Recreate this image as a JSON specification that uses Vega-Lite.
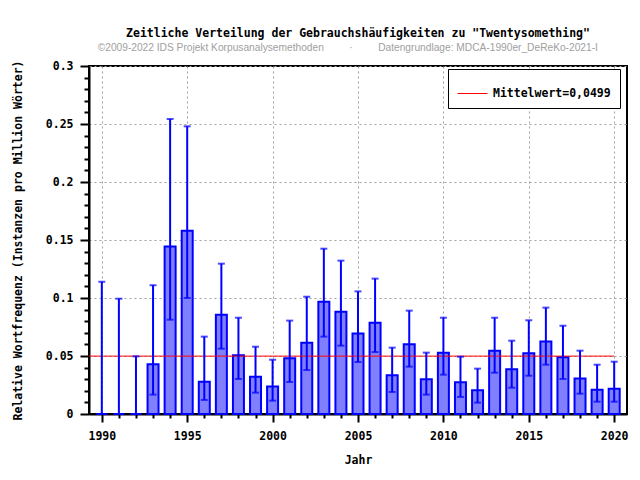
{
  "$schema": "https://vega.github.io/schema/vega-lite/v6.json",
  "autosize": {"type": "none"},
  "width": 538,
  "height": 348,
  "padding": {"left": 89, "top": 66, "right": 13, "bottom": 66},
  "background": "white",
  "config": {
    "view": {"stroke": "black", "strokeWidth": 2},
    "font": "DejaVu Sans Mono"
  },
  "title": {
    "text": "Zeitliche Verteilung der Gebrauchshäufigkeiten zu \"Twentysomething\"",
    "subtitle": "©2009-2022 IDS Projekt Korpusanalysemethoden\u00a0\u00a0\u00a0\u00a0\u00a0\u00a0\u00a0\u00a0\u00a0·\u00a0\u00a0\u00a0\u00a0\u00a0\u00a0\u00a0\u00a0\u00a0Datengrundlage: MDCA-1990er_DeReKo-2021-I\u2003\u2003\u200b",
    "anchor": "middle",
    "font": "DejaVu Sans Mono",
    "fontSize": 11.5,
    "fontWeight": "bold",
    "color": "black",
    "subtitleFont": "Liberation Sans",
    "subtitleFontSize": 10.2,
    "subtitleColor": "#a0a0a0",
    "subtitlePadding": 3,
    "offset": 7
  },
  "datasets": {
    "freq": [
      {"year": 1990, "value": 0, "lo": 0, "hi": 0.114},
      {"year": 1991, "value": 0, "lo": 0, "hi": 0.0994},
      {"year": 1992, "value": 0, "lo": 0, "hi": 0.0497},
      {"year": 1993, "value": 0.0428, "lo": 0.0167, "hi": 0.111},
      {"year": 1994, "value": 0.1443, "lo": 0.0813, "hi": 0.2543},
      {"year": 1995, "value": 0.158, "lo": 0.1, "hi": 0.248},
      {"year": 1996, "value": 0.0279, "lo": 0.0121, "hi": 0.0667},
      {"year": 1997, "value": 0.0856, "lo": 0.0563, "hi": 0.1296},
      {"year": 1998, "value": 0.0506, "lo": 0.0302, "hi": 0.083},
      {"year": 1999, "value": 0.0322, "lo": 0.0184, "hi": 0.058},
      {"year": 2000, "value": 0.0236, "lo": 0.0115, "hi": 0.0468},
      {"year": 2001, "value": 0.048, "lo": 0.0276, "hi": 0.0805},
      {"year": 2002, "value": 0.0615, "lo": 0.0379, "hi": 0.1011},
      {"year": 2003, "value": 0.0968, "lo": 0.0667, "hi": 0.1425},
      {"year": 2004, "value": 0.0882, "lo": 0.0589, "hi": 0.1322},
      {"year": 2005, "value": 0.0695, "lo": 0.0448, "hi": 0.1057},
      {"year": 2006, "value": 0.0787, "lo": 0.0534, "hi": 0.1167},
      {"year": 2007, "value": 0.0333, "lo": 0.019, "hi": 0.0572},
      {"year": 2008, "value": 0.0601, "lo": 0.0408, "hi": 0.0891},
      {"year": 2009, "value": 0.0299, "lo": 0.0167, "hi": 0.0529},
      {"year": 2010, "value": 0.0529, "lo": 0.0339, "hi": 0.083},
      {"year": 2011, "value": 0.0273, "lo": 0.0147, "hi": 0.0494},
      {"year": 2012, "value": 0.0204, "lo": 0.0098, "hi": 0.0391},
      {"year": 2013, "value": 0.0546, "lo": 0.0356, "hi": 0.083},
      {"year": 2014, "value": 0.0385, "lo": 0.0227, "hi": 0.0632},
      {"year": 2015, "value": 0.0523, "lo": 0.033, "hi": 0.0808},
      {"year": 2016, "value": 0.0624, "lo": 0.0425, "hi": 0.0917},
      {"year": 2017, "value": 0.0489, "lo": 0.0302, "hi": 0.0761},
      {"year": 2018, "value": 0.0305, "lo": 0.0175, "hi": 0.0546},
      {"year": 2019, "value": 0.021, "lo": 0.0106, "hi": 0.0425},
      {"year": 2020, "value": 0.0218, "lo": 0.0106, "hi": 0.0451}
    ],
    "mean": [
      {"x": 1989.25, "x2": 2020, "y": 0.0499, "label": "Mittelwert=0,0499"}
    ]
  },
  "layer": [
    {
      "data": {"name": "freq"},
      "mark": {"type": "bar", "width": 11, "fill": "#8080ff", "stroke": "#0000ff", "strokeWidth": 2},
      "encoding": {
        "x": {
          "field": "year", "type": "quantitative",
          "scale": {"domain": [1989.25, 2020.75], "nice": false, "zero": false, "padding": 0},
          "axis": {
            "title": "Jahr",
            "values": [1990,1991,1992,1993,1994,1995,1996,1997,1998,1999,2000,2001,2002,2003,2004,2005,2006,2007,2008,2009,2010,2011,2012,2013,2014,2015,2016,2017,2018,2019,2020],
            "tickCount": 100,
            "format": "d",
            "labelExpr": "datum.value % 5 === 0 ? datum.label : ''",
            "labelFont": "DejaVu Sans Mono",
            "labelFontWeight": "bold",
            "labelFontSize": 11.5,
            "labelColor": "black",
            "labelPadding": 8,
            "labelFlush": false,
            "labelOverlap": false,
            "titleFont": "DejaVu Sans Mono",
            "titleFontWeight": "bold",
            "titleFontSize": 11.5,
            "titleColor": "black",
            "titlePadding": 13,
            "domainColor": "black",
            "domainWidth": 2,
            "tickColor": "black",
            "tickWidth": 2,
            "tickSize": {"condition": {"test": "datum.value % 5 === 0", "value": 8}, "value": 4},
            "grid": true,
            "gridColor": "#a0a0a0",
            "gridDash": [2, 3],
            "gridWidth": 1,
            "gridOpacity": {"condition": {"test": "datum.value % 5 === 0", "value": 1}, "value": 0}
          }
        },
        "y": {
          "field": "value", "type": "quantitative",
          "scale": {"domain": [0, 0.3], "nice": false, "padding": 0},
          "axis": {
            "title": "Relative Wortfrequenz (Instanzen pro Million Wörter)",
            "values": [0,0.01,0.02,0.03,0.04,0.05,0.06,0.07,0.08,0.09,0.1,0.11,0.12,0.13,0.14,0.15,0.16,0.17,0.18,0.19,0.2,0.21,0.22,0.23,0.24,0.25,0.26,0.27,0.28,0.29,0.3],
            "tickCount": 100,
            "format": ".2~f",
            "labelExpr": "round(datum.value*100) % 5 === 0 ? datum.label : ''",
            "labelFont": "DejaVu Sans Mono",
            "labelFontWeight": "bold",
            "labelFontSize": 11.5,
            "labelColor": "black",
            "labelPadding": 7,
            "labelFlush": false,
            "labelOverlap": false,
            "titleFont": "DejaVu Sans Mono",
            "titleFontWeight": "bold",
            "titleFontSize": 11.5,
            "titleColor": "black",
            "titlePadding": 22,
            "domainColor": "black",
            "domainWidth": 2,
            "tickColor": "black",
            "tickWidth": 2,
            "tickSize": {"condition": {"test": "round(datum.value*100) % 5 === 0", "value": 9}, "value": 5},
            "grid": true,
            "gridColor": "#a0a0a0",
            "gridDash": [2, 3],
            "gridWidth": 1,
            "gridOpacity": {"condition": {"test": "round(datum.value*100) % 5 === 0", "value": 1}, "value": 0}
          }
        }
      }
    },
    {
      "data": {"name": "mean"},
      "mark": {"type": "rule", "strokeWidth": 1},
      "encoding": {
        "x": {"field": "x", "type": "quantitative"},
        "x2": {"field": "x2"},
        "y": {"field": "y", "type": "quantitative"},
        "color": {
          "field": "label", "type": "nominal",
          "scale": {"domain": ["Mittelwert=0,0499"], "range": ["#ff0000"]},
          "legend": {
            "title": null,
            "orient": "none",
            "legendX": 359,
            "legendY": 3,
            "symbolType": "stroke",
            "symbolSize": 900,
            "symbolStrokeWidth": 1,
            "symbolStrokeColor": "#ff0000",
            "labelFont": "DejaVu Sans Mono",
            "labelFontWeight": "bold",
            "labelFontSize": 11.5,
            "labelColor": "black",
            "labelOffset": 5,
            "padding": 9,
            "strokeColor": "black",
            "fillColor": "white",
            "cornerRadius": 0
          }
        }
      }
    },
    {
      "data": {"name": "freq"},
      "mark": {"type": "rule", "color": "#0000ff", "strokeWidth": 2},
      "encoding": {
        "x": {"field": "year", "type": "quantitative"},
        "y": {"field": "lo", "type": "quantitative"},
        "y2": {"field": "hi"}
      }
    },
    {
      "data": {"name": "freq"},
      "mark": {"type": "tick", "orient": "horizontal", "color": "#0000ff", "size": 7, "thickness": 2},
      "encoding": {
        "x": {"field": "year", "type": "quantitative"},
        "y": {"field": "hi", "type": "quantitative"}
      }
    },
    {
      "data": {"name": "freq"},
      "mark": {"type": "tick", "orient": "horizontal", "color": "#0000ff", "size": 7, "thickness": 2},
      "encoding": {
        "x": {"field": "year", "type": "quantitative"},
        "y": {"field": "lo", "type": "quantitative"}
      }
    }
  ]
}
